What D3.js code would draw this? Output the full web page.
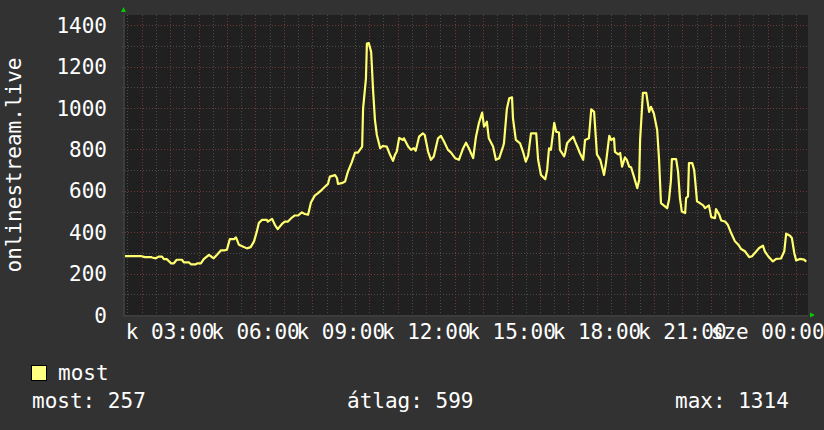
<!DOCTYPE html>
<html>
<head>
<meta charset="utf-8">
<script src="https://cdn.jsdelivr.net/npm/d3@7"></script>
<style>
  html, body { margin: 0; padding: 0; background: #323232; }
  text { font-family: "DejaVu Sans Mono", monospace; fill: #ffffff; }
</style>
</head>
<body>
<svg id="chart"></svg>
<script>
// minutes since 00:00 on Tuesday (kedd)
var times = [85, 118, 127, 140, 142, 150, 156, 163, 167, 173, 182, 188, 194, 205, 209, 220, 224, 234, 237, 245,
    251, 262, 272, 279, 287, 294, 300, 306, 315, 319, 325, 331, 342, 350, 357, 363, 367, 374, 384, 386,
    395, 401, 407, 416, 422, 428, 437, 443, 450, 458, 464, 471, 477, 485, 492, 500, 507, 513, 517, 528,
    532, 534, 542, 549, 555, 563, 570, 576, 585, 587, 593, 595, 599, 604, 608, 612, 616, 623, 629, 637,
    644, 650, 654, 658, 663, 671, 673, 682, 688, 694, 698, 705, 713, 717, 724, 730, 736, 745, 751, 757,
    766, 772, 781, 789, 798, 804, 810, 819, 825, 831, 838, 842, 848, 852, 861, 867, 874, 882, 884, 890,
    895, 901, 903, 909, 918, 924, 930, 935, 941, 947, 952, 956, 962, 971, 975, 979, 983, 990, 994, 1000,
    1002, 1011, 1013, 1017, 1023, 1030, 1034, 1040, 1044, 1051, 1055, 1063, 1068, 1074, 1080, 1087, 1095, 1099, 1106, 1110,
    1116, 1118, 1125, 1129, 1133, 1139, 1143, 1148, 1152, 1158, 1165, 1169, 1171, 1177, 1184, 1190, 1194, 1200, 1207, 1211,
    1215, 1224, 1228, 1232, 1236, 1238, 1247, 1251, 1255, 1259, 1266, 1268, 1272, 1274, 1281, 1285, 1287, 1291, 1297, 1304,
    1308, 1316, 1321, 1329, 1331, 1338, 1342, 1350, 1356, 1363, 1371, 1378, 1384, 1392, 1401, 1407, 1413, 1422, 1430, 1434,
    1441, 1451, 1458, 1468, 1475, 1479, 1487, 1491, 1496, 1500, 1508, 1517, 1521];
var values = [285, 285, 280, 280, 278, 274, 282, 282, 270, 270, 250, 250, 267, 267, 254, 254, 245, 245, 250, 250,
    270, 291, 274, 291, 312, 312, 316, 367, 367, 375, 340, 334, 322, 328, 356, 404, 444, 460, 460, 451,
    465, 436, 415, 440, 451, 451, 471, 481, 481, 496, 488, 485, 544, 577, 589, 605, 621, 634, 669, 676,
    661, 634, 637, 645, 693, 738, 785, 785, 814, 999, 1143, 1312, 1314, 1271, 1087, 942, 870, 806, 817, 814,
    773, 745, 773, 790, 856, 846, 854, 814, 798, 806, 794, 862, 878, 870, 790, 750, 766, 854, 866, 841,
    798, 786, 758, 750, 806, 833, 806, 758, 862, 926, 978, 910, 934, 854, 814, 750, 758, 814, 830, 994,
    1047, 1052, 950, 846, 830, 790, 741, 770, 878, 878, 878, 750, 677, 656, 701, 806, 798, 929, 886, 882,
    798, 767, 783, 830, 846, 862, 838, 806, 783, 750, 846, 854, 994, 982, 776, 750, 677, 734, 866, 846,
    854, 788, 776, 783, 717, 762, 750, 717, 714, 669, 613, 653, 846, 1074, 1074, 982, 1006, 974, 894, 750,
    541, 524, 516, 557, 650, 753, 753, 693, 565, 500, 493, 565, 573, 734, 734, 701, 653, 549, 541, 530,
    517, 530, 473, 468, 512, 484, 457, 452, 436, 396, 356, 340, 319, 308, 280, 284, 300, 324, 335, 308,
    284, 259, 271, 273, 308, 393, 383, 372, 300, 264, 271, 268, 257];

var yTicks = [0, 200, 400, 600, 800, 1000, 1200, 1400];
var xTickTimes = [180, 360, 540, 720, 900, 1080, 1260, 1440];
var xTickLabels = ["k 03:00", "k 06:00", "k 09:00", "k 12:00", "k 15:00", "k 18:00", "k 21:00", "sze 00:00"];
var seriesName = "most";
var statNames = ["most", "átlag", "max"];
var statValues = [257, 599, 1314];
var axisTitle = "onlinestream.live";

var width = 824, height = 430;
var plot = {left: 125, right: 808, top: 15, bottom: 315};
var fontSize = 21;

var svg = d3.select("#chart")
    .attr("width", width)
    .attr("height", height);

svg.append("rect")
    .attr("width", width).attr("height", height)
    .attr("fill", "#323232");

var x = d3.scaleLinear().domain([85, 1525]).range([plot.left, plot.right]);
var y = d3.scaleLinear().domain([0, 1450]).range([plot.bottom, plot.top]);

// plot background
svg.append("rect")
    .attr("x", plot.left).attr("y", plot.top)
    .attr("width", plot.right - plot.left)
    .attr("height", plot.bottom - plot.top)
    .attr("fill", "#202020");

// grid: every 30 min / 100 units, red on full hours / 200 units
var grid = svg.append("g").attr("shape-rendering", "crispEdges");
var minorX = d3.range(90, 1525, 30);
grid.selectAll(".vx")
    .data(minorX).enter()
    .append("line")
    .attr("x1", d => Math.round(x(d)) + 0.5).attr("x2", d => Math.round(x(d)) + 0.5)
    .attr("y1", plot.top).attr("y2", plot.bottom + 3)
    .attr("stroke", d => d % 60 === 0 ? "#6e3838" : "#4a4a4a")
    .attr("stroke-dasharray", "1,2");

var minorY = d3.range(100, 1450, 100);
grid.selectAll(".hy")
    .data(minorY).enter()
    .append("line")
    .attr("x1", plot.left - 3).attr("x2", plot.right)
    .attr("y1", d => Math.round(y(d)) + 0.5).attr("y2", d => Math.round(y(d)) + 0.5)
    .attr("stroke", d => d % 200 === 0 ? "#6e3838" : "#4a4a4a")
    .attr("stroke-dasharray", "1,2");

// axes lines
svg.append("rect")
    .attr("x", plot.left - 2).attr("y", plot.top)
    .attr("width", 2).attr("height", plot.bottom - plot.top + 2)
    .attr("fill", "#3c3c3c");
svg.append("rect")
    .attr("x", plot.left - 2).attr("y", plot.bottom)
    .attr("width", plot.right - plot.left + 2).attr("height", 2)
    .attr("fill", "#3c3c3c");

// arrows
svg.append("path")
    .attr("d", `M${plot.left - 4},${plot.top - 3} L${plot.left + 1},${plot.top - 3} L${plot.left - 1.5},${plot.top - 8} Z`)
    .attr("fill", "#00cc00");
svg.append("path")
    .attr("d", `M${plot.right + 2},${plot.bottom - 2.5} L${plot.right + 2},${plot.bottom + 2.5} L${plot.right + 7},${plot.bottom} Z`)
    .attr("fill", "#00cc00");

// y labels
svg.selectAll(".ylab")
    .data(yTicks).enter()
    .append("text")
    .attr("x", 107)
    .attr("y", d => y(d))
    .attr("dy", "0.36em")
    .attr("text-anchor", "end")
    .attr("font-size", fontSize)
    .text(d => d);

// x labels (drawn in order, later ones overlap earlier ones)
svg.selectAll(".xlab")
    .data(xTickTimes).enter()
    .append("text")
    .attr("x", d => x(d))
    .attr("y", 339)
    .attr("text-anchor", "middle")
    .attr("font-size", fontSize)
    .text((d, i) => xTickLabels[i]);

// axis title
svg.append("text")
    .attr("transform", `translate(21, ${(plot.top + plot.bottom) / 2}) rotate(-90)`)
    .attr("text-anchor", "middle")
    .attr("font-size", fontSize)
    .text(axisTitle);

// series line
var points = times.map((t, i) => [t, values[i]]);
var line = d3.line()
    .x(d => x(d[0]))
    .y(d => y(d[1]));

svg.append("path")
    .datum(points)
    .attr("fill", "none")
    .attr("stroke", "#ffff70")
    .attr("stroke-width", 2.2)
    .attr("stroke-linejoin", "round")
    .attr("d", line);

// legend
svg.append("rect")
    .attr("x", 31.5).attr("y", 365.5)
    .attr("width", 15).attr("height", 15)
    .attr("fill", "#ffff80")
    .attr("stroke", "#000");
svg.append("text")
    .attr("x", 58).attr("y", 380)
    .attr("font-size", fontSize)
    .text(seriesName);

var statX = [32, 347, 675];
svg.selectAll(".stat")
    .data(statNames).enter()
    .append("text")
    .attr("x", (d, i) => statX[i])
    .attr("y", 408)
    .attr("font-size", fontSize)
    .text((d, i) => d + ": " + statValues[i]);
</script>
</body>
</html>
